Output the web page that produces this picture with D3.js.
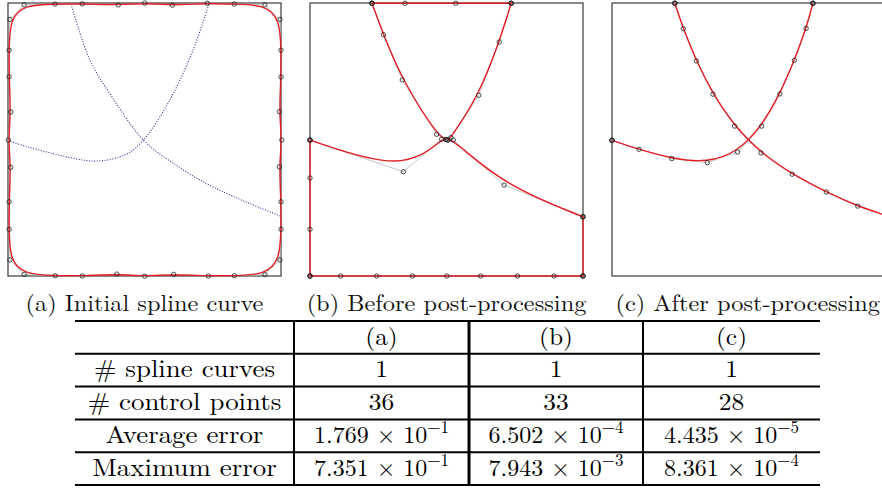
<!DOCTYPE html>
<html>
<head>
<meta charset="utf-8">
<script src="https://cdn.jsdelivr.net/npm/d3@7"></script>
<style>
  body { margin: 0; background: #fff; }
  svg { display: block; font-family: "Latin Modern Roman", "CMU Serif", "Liberation Serif", serif; }
</style>
</head>
<body>
<svg id="chart" width="882" height="489"></svg>
<script>
// ---- data (unit box coords: x to the right, y downward; 3rd value = knot multiplicity)
const panelKeys = ['a', 'b', 'c']
const captions = ['(a) Initial spline curve', '(b) Before post-processing', '(c) After post-processing']

const ctrlInitial = [
  [0.059, 0.007], [0.172, 0.004], [0.272, 0.003], [0.404, 0.007], [0.501, 0.000], [0.602, 0.008], [0.730, 0.001], [0.829, 0.004], [0.941, 0.007],
  [0.996, 0.060], [1.000, 0.173], [1.000, 0.271], [0.994, 0.398], [1.003, 0.502], [0.994, 0.600], [1.000, 0.728], [1.000, 0.829], [0.996, 0.941],
  [0.941, 0.995], [0.829, 0.999], [0.734, 1.000], [0.607, 0.994], [0.501, 1.001], [0.399, 0.993], [0.272, 1.000], [0.173, 0.999], [0.059, 0.994],
  [0.007, 0.941], [0.004, 0.829], [0.004, 0.728], [0.010, 0.602], [0.001, 0.502], [0.010, 0.399], [0.004, 0.270], [0.004, 0.173], [0.007, 0.060],
]

const ctrlBefore = [
  [0.000, 0.502, 3], [0.342, 0.618], [0.482, 0.499], [0.498, 0.500, 2], [0.464, 0.481], [0.338, 0.282], [0.269, 0.116],
  [0.227, 0.001, 3], [0.348, 0.001], [0.534, 0.001], [0.737, 0.001, 3],
  [0.693, 0.143], [0.618, 0.338], [0.516, 0.493], [0.505, 0.502, 2], [0.525, 0.502], [0.711, 0.667],
  [1.000, 0.783, 3], [1.000, 1.000, 3],
  [0.894, 1.000], [0.760, 1.000], [0.625, 1.000], [0.501, 1.000], [0.375, 1.000], [0.244, 1.000], [0.112, 1.000],
  [0.000, 1.000, 3], [0.000, 0.829], [0.000, 0.641],
]

const ctrlAfterA = [
  [0.000, 0.503, 3], [0.099, 0.536], [0.219, 0.570], [0.349, 0.585], [0.460, 0.546],
  [0.548, 0.451], [0.615, 0.333], [0.668, 0.210], [0.711, 0.093], [0.736, 0.001, 3],
]
const ctrlAfterB = [
  [0.230, 0.001, 3], [0.261, 0.094], [0.309, 0.212], [0.370, 0.334], [0.449, 0.451],
  [0.546, 0.549], [0.660, 0.627], [0.785, 0.692], [0.900, 0.744], [1.000, 0.777, 3],
]

// target curves shown dotted in (a)
const targetA = [[0.001, 0.505], [0.154, 0.549], [0.325, 0.579], [0.435, 0.553], [0.496, 0.502], [0.593, 0.355], [0.678, 0.172], [0.736, 0.004]]
const targetB = [[0.231, 0.004], [0.300, 0.209], [0.380, 0.343], [0.496, 0.502], [0.604, 0.586], [0.751, 0.674], [0.996, 0.780]]

// table
const rowLabels = ['# spline curves', '# control points', 'Average error', 'Maximum error']
const colHeads = ['(a)', '(b)', '(c)']
const nSplines = [1, 1, 1]
const nControl = [36, 33, 28]
const avgMant = [1.769, 6.502, 4.435], avgExp = [-1, -4, -5]
const maxMant = [7.351, 7.943, 8.361], maxExp = [-1, -3, -4]

// ---- layout
const W = 882
const svg = d3.select('#chart')
const panelLeft = [8, 310, 612], panelTop = 3, panelSize = 273
const RED = '#e31e25', BOX = '#4a4a4a'

const expand = pts => pts.flatMap(p => d3.range(p[2] || 1).map(() => [p[0], p[1]]))

const panels = [
  { loops: [{ pts: ctrlInitial, closed: true }], targets: [targetA, targetB] },
  { loops: [{ pts: ctrlBefore, closed: true }], targets: [] },
  { loops: [{ pts: ctrlAfterA, closed: false }, { pts: ctrlAfterB, closed: false }], targets: [] },
]

panels.forEach((p, i) => {
  const x = d3.scaleLinear().domain([0, 1]).range([panelLeft[i], panelLeft[i] + panelSize])
  const y = d3.scaleLinear().domain([0, 1]).range([panelTop, panelTop + panelSize])
  const g = svg.append('g').attr('class', 'panel-' + panelKeys[i])

  g.append('rect')
    .attr('x', x(0)).attr('y', y(0))
    .attr('width', x(1) - x(0)).attr('height', y(1) - y(0))
    .attr('fill', 'none').attr('stroke', BOX).attr('stroke-width', 1.3)

  const poly = d3.line().x(d => x(d[0])).y(d => y(d[1]))

  p.targets.forEach(t => {
    g.append('path').datum(t)
      .attr('d', poly.curve(d3.curveCatmullRom.alpha(0.5)))
      .attr('fill', 'none').attr('stroke', '#30309c')
      .attr('stroke-width', 1.1).attr('stroke-dasharray', '1,1.6')
  })

  p.loops.forEach(l => {
    const pts = expand(l.pts)
    g.append('path').datum(pts)
      .attr('d', poly.curve(l.closed ? d3.curveLinearClosed : d3.curveLinear))
      .attr('fill', 'none').attr('stroke', '#bdbdbd').attr('stroke-width', 0.9)
    g.append('path').datum(pts)
      .attr('d', poly.curve(l.closed ? d3.curveBasisClosed : d3.curveBasis))
      .attr('fill', 'none').attr('stroke', RED).attr('stroke-width', 1.4)
    g.selectAll(null).data(pts).join('circle')
      .attr('cx', d => x(d[0])).attr('cy', d => y(d[1])).attr('r', 2.2)
      .attr('fill', 'none').attr('stroke', '#222').attr('stroke-width', 1)
      .attr('stroke-opacity', 0.8)
  })

  // caption, kept inside the page on the right
  const capStretch = 1.06
  const cap = svg.append('text')
    .attr('text-anchor', 'middle').attr('font-size', 23).attr('fill', '#111')
    .text(captions[i])
  const w = cap.node().getComputedTextLength() * capStretch
  const cx = Math.min(x(0.5), W - 2 - w / 2)
  cap.attr('transform', `translate(${cx},311) scale(${capStretch},1)`)
})

// ---- table
const rowY = d3.scaleBand().domain(d3.range(rowLabels.length + 1)).range([321, 485])
const colEdges = [75, 294, 469, 643, 820]
const colMid = i => (colEdges[i] + colEdges[i + 1]) / 2
const table = svg.append('g').attr('class', 'table')

d3.range(rowLabels.length + 2).forEach(i => {
  const yy = i <= rowLabels.length ? rowY(i) : rowY.range()[1]
  table.append('line')
    .attr('x1', colEdges[0]).attr('x2', colEdges[4]).attr('y1', yy).attr('y2', yy)
    .attr('stroke', '#000').attr('stroke-width', 2)
})
;[1, 2, 3].forEach(c => {
  table.append('line')
    .attr('x1', colEdges[c]).attr('x2', colEdges[c])
    .attr('y1', rowY.range()[0] - 1).attr('y2', rowY.range()[1] + 1)
    .attr('stroke', '#000').attr('stroke-width', c === 2 ? 3 : 2)
})

const cell = (c, r, s) => table.append('text')
  .attr('transform', `translate(${colMid(c)},${rowY(r) + 23.5}) scale(${s},1)`)
  .attr('text-anchor', 'middle').attr('font-size', 24).attr('fill', '#000')

colHeads.forEach((h, j) => cell(j + 1, 0, 1.06).text(h))
rowLabels.forEach((l, r) => cell(0, r + 1, 1.12).text(l))
nSplines.forEach((v, j) => cell(j + 1, 1, 1.06).text(v))
nControl.forEach((v, j) => cell(j + 1, 2, 1.06).text(v))

const sci = (t, m, e) => {
  t.append('tspan').text(`${d3.format('.3f')(m)} \u00d7 10`)
  t.append('tspan').attr('dy', -10).attr('font-size', 17).text(`\u2212${Math.abs(e)}`)
}
avgMant.forEach((m, j) => sci(cell(j + 1, 3, 1.0), m, avgExp[j]))
maxMant.forEach((m, j) => sci(cell(j + 1, 4, 1.0), m, maxExp[j]))
</script>
</body>
</html>
